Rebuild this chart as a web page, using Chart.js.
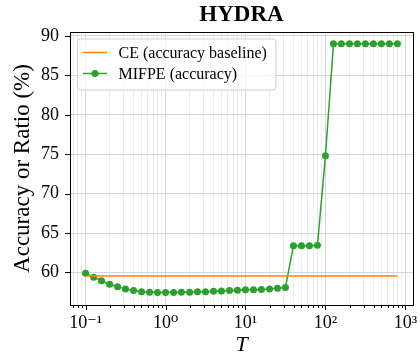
<!DOCTYPE html>
<html>
<head>
<meta charset="utf-8">
<script src="https://cdn.jsdelivr.net/npm/chart.js@4.4.1/dist/chart.umd.min.js"></script>
<style>
  html, body { margin: 0; padding: 0; background: #fff; }
</style>
</head>
<body>
<canvas id="chart" width="420" height="360"></canvas>
<script>
// T values (log spaced)
const tValues = [
  0.1, 0.126, 0.158, 0.2, 0.251, 0.316, 0.398, 0.501, 0.631, 0.794,
  1, 1.26, 1.58, 2, 2.51, 3.16, 3.98, 5.01, 6.31, 7.94,
  10, 12.6, 15.8, 20, 25.1, 31.6, 39.8, 50.1, 63.1, 79.4,
  100, 126, 158, 200, 251, 316, 398, 501, 631, 794
];
// MIFPE accuracy (%)
const mifpeAcc = [
  59.9, 59.4, 58.95, 58.5, 58.2, 57.9, 57.7, 57.55, 57.5, 57.45,
  57.45, 57.45, 57.5, 57.5, 57.55, 57.55, 57.6, 57.65, 57.7, 57.75,
  57.8, 57.8, 57.85, 57.9, 58.0, 58.1, 63.4, 63.4, 63.4, 63.45,
  74.8, 89.0, 89.0, 89.0, 89.0, 89.0, 89.0, 89.0, 89.0, 89.0
];
// CE accuracy baseline (%)
const ceBaseline = 59.55;

const seriesLabels = ["CE (accuracy baseline)", "MIFPE (accuracy)"];
const seriesColors = ["#ff7f0e", "#2ca02c"];

const xMajorTicks = [0.1, 1, 10, 100, 1000];
const xTickLabels = ["10\u207B\u00B9", "10\u2070", "10\u00B9", "10\u00B2", "10\u00B3"];
const yTicks = [60, 65, 70, 75, 80, 85, 90];

const serif = "'Liberation Serif', 'DejaVu Serif', serif";
Chart.defaults.font.family = serif;
Chart.defaults.color = "#000";

// minor ticks 2..9 x 10^n
const xAllTicks = [];
for (let n = -2; n <= 3; n++) {
  for (let k = 1; k <= 9; k++) {
    xAllTicks.push(k === 1 ? Math.pow(10, n) : +(k * Math.pow(10, n)).toPrecision(6));
  }
}
const isMajor = (v) => xMajorTicks.includes(v);

// frame, tick marks and the in-axes legend
const axesExtras = {
  id: "axesExtras",
  afterDraw(chart) {
    const ctx = chart.ctx;
    const a = chart.chartArea;
    const xs = chart.scales.x;
    const ys = chart.scales.y;
    ctx.save();
    ctx.strokeStyle = "#000";
    ctx.lineWidth = 1;
    ctx.beginPath();
    xs.ticks.forEach((t) => {
      const px = Math.round(xs.getPixelForValue(t.value)) + 0.5;
      const len = isMajor(t.value) ? 5 : 3;
      ctx.moveTo(px, a.bottom);
      ctx.lineTo(px, a.bottom + len);
    });
    ys.ticks.forEach((t) => {
      const py = Math.round(ys.getPixelForValue(t.value)) + 0.5;
      ctx.moveTo(a.left - 5, py);
      ctx.lineTo(a.left, py);
    });
    ctx.stroke();
    ctx.strokeRect(Math.round(a.left) + 0.5, Math.round(a.top) + 0.5,
      Math.round(a.right - a.left), Math.round(a.bottom - a.top));

    // legend
    ctx.font = "16px " + serif;
    const textW = Math.max(...seriesLabels.map((s) => ctx.measureText(s).width));
    const bx = a.left + 7, by = a.top + 6.5;
    const bw = 42 + textW + 8, bh = 51;
    ctx.beginPath();
    ctx.roundRect(bx + 0.5, by + 0.5, bw, bh, 3);
    ctx.fillStyle = "rgba(255,255,255,0.8)";
    ctx.fill();
    ctx.strokeStyle = "#d0d0d0";
    ctx.stroke();
    seriesLabels.forEach((label, i) => {
      const cy = by + 14 + i * 21;
      ctx.strokeStyle = seriesColors[i];
      ctx.lineWidth = 1.5;
      ctx.beginPath();
      ctx.moveTo(bx + 6, cy);
      ctx.lineTo(bx + 30, cy);
      ctx.stroke();
      if (i === 1) {
        ctx.fillStyle = seriesColors[i];
        ctx.beginPath();
        ctx.arc(bx + 18, cy, 3.5, 0, Math.PI * 2);
        ctx.fill();
      }
      ctx.fillStyle = "#000";
      ctx.textBaseline = "middle";
      ctx.fillText(label, bx + 41.5, cy + 1);
    });
    ctx.restore();
  },
};

new Chart(document.getElementById("chart"), {
  type: "line",
  data: {
    datasets: [
      {
        label: seriesLabels[0],
        data: tValues.map((t) => ({ x: t, y: ceBaseline })),
        borderColor: seriesColors[0],
        borderWidth: 1.5,
        pointRadius: 0,
      },
      {
        label: seriesLabels[1],
        data: tValues.map((t, i) => ({ x: t, y: mifpeAcc[i] })),
        borderColor: seriesColors[1],
        backgroundColor: seriesColors[1],
        borderWidth: 1.5,
        pointRadius: 3.5,
        pointBorderWidth: 0,
      },
    ],
  },
  options: {
    responsive: false,
    animation: false,
    layout: { padding: { left: 0, right: 7, top: 0, bottom: 0 } },
    plugins: {
      legend: { display: false },
      tooltip: { enabled: false },
      title: {
        display: true,
        fullSize: false,
        text: "HYDRA",
        font: { size: 23, weight: "bold", family: serif },
        color: "#000",
        padding: { top: 1.5, bottom: 2.9 },
      },
    },
    scales: {
      x: {
        type: "logarithmic",
        min: Math.pow(10, -1.195),
        max: Math.pow(10, 3.095),
        afterBuildTicks: (scale) => {
          scale.ticks = xAllTicks
            .filter((v) => v >= scale.min && v <= scale.max)
            .map((v) => ({ value: v, major: isMajor(v) }));
        },
        afterFit: (scale) => { scale.height = 55; },
        ticks: {
          autoSkip: false,
          maxRotation: 0,
          padding: 2,
          font: { size: 18 },
          callback: (v) => {
            const i = xMajorTicks.indexOf(v);
            return i >= 0 ? xTickLabels[i] : "";
          },
        },
        grid: {
          color: (c) => (c.tick && isMajor(c.tick.value) ? "#d6d6d6" : "#ececec"),
          tickColor: "transparent",
          tickLength: 5,
        },
        border: { display: false },
        title: {
          display: true,
          text: "T",
          font: { size: 22, style: "italic" },
          padding: { top: 0, bottom: 2 },
        },
      },
      y: {
        min: 55.87,
        max: 90.5,
        afterBuildTicks: (scale) => {
          scale.ticks = yTicks.map((v) => ({ value: v }));
        },
        afterFit: (scale) => { scale.width = 70; },
        ticks: { padding: 6, font: { size: 18 } },
        grid: { color: "#d6d6d6", tickColor: "transparent", tickLength: 5 },
        border: { display: false },
        title: {
          display: true,
          text: "Accuracy or Ratio (%)",
          font: { size: 23 },
          padding: { top: 9, bottom: 0 },
        },
      },
    },
  },
  plugins: [axesExtras],
});
</script>
</body>
</html>
